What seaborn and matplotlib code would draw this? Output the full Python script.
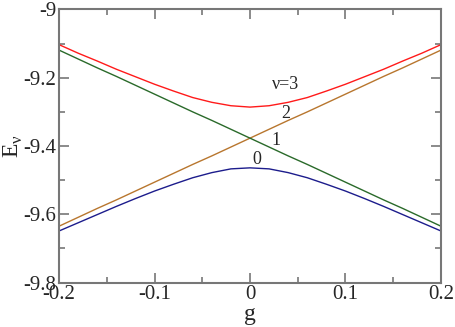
import seaborn as sns
import matplotlib.pyplot as plt
import pandas as pd
from matplotlib.ticker import MultipleLocator

# Valori (g, energie dei livelli)
g = [-0.20, -0.18, -0.16, -0.14, -0.12, -0.10, -0.08, -0.06, -0.04, -0.02, 0.00,
     0.02, 0.04, 0.06, 0.08, 0.10, 0.12, 0.14, 0.16, 0.18, 0.20]
e3 = [-9.103, -9.128, -9.151, -9.175, -9.197, -9.219, -9.239, -9.258, -9.272, -9.282, -9.286,
      -9.282, -9.272, -9.258, -9.239, -9.219, -9.197, -9.175, -9.151, -9.128, -9.103]
e0 = [-9.649, -9.625, -9.601, -9.577, -9.554, -9.532, -9.512, -9.493, -9.478, -9.467, -9.464,
      -9.467, -9.478, -9.493, -9.512, -9.532, -9.554, -9.577, -9.601, -9.625, -9.649]
e1 = [-9.119, -9.145, -9.171, -9.196, -9.222, -9.248, -9.274, -9.300, -9.325, -9.351, -9.377,
      -9.403, -9.429, -9.454, -9.480, -9.506, -9.532, -9.558, -9.583, -9.609, -9.635]
e2 = e1[::-1]

livelli = ['3', '2', '1', '0']
colori = {'3': '#ff1a1a', '2': '#b8762e', '1': '#2a6a2a', '0': '#1c1c8c'}

df = pd.concat([
    pd.DataFrame({'g': g, 'E': e3, 'v': '3'}),
    pd.DataFrame({'g': g, 'E': e2, 'v': '2'}),
    pd.DataFrame({'g': g, 'E': e1, 'v': '1'}),
    pd.DataFrame({'g': g, 'E': e0, 'v': '0'}),
])

sns.set_style('ticks')
plt.rcParams['font.family'] = 'serif'
plt.rcParams['font.serif'] = ['Liberation Serif', 'DejaVu Serif']
plt.rcParams['mathtext.fontset'] = 'custom'
plt.rcParams['mathtext.rm'] = 'Liberation Serif'

fig = plt.figure(figsize=(4.55, 3.27), dpi=100)
ax = fig.add_axes([0.1297, 0.136, 0.8395, 0.835])
sns.lineplot(data=df, x='g', y='E', hue='v', palette=colori, hue_order=livelli,
             linewidth=1.0, legend=False, ax=ax, sort=False)

ax.set_xlim(-0.2, 0.2)
ax.set_ylim(-9.8, -9.0)
ax.xaxis.set_major_locator(MultipleLocator(0.1))
ax.xaxis.set_minor_locator(MultipleLocator(0.05))
ax.yaxis.set_major_locator(MultipleLocator(0.2))
ax.yaxis.set_minor_locator(MultipleLocator(0.1))
ax.xaxis.set_major_formatter(plt.FuncFormatter(lambda v, p: '0' if abs(v) < 1e-9 else f'{v:g}'))
ax.yaxis.set_major_formatter(plt.FuncFormatter(lambda v, p: f'{v:g}'))
ax.tick_params(which='both', direction='in', top=True, right=True, labelsize=15,
               color='#777777', width=1.2, pad=2)
ax.tick_params(which='major', length=7)
ax.tick_params(which='minor', length=4)
for s in ax.spines.values():
    s.set_color('#777777')
    s.set_linewidth(1.5)

ax.set_xlabel('g', fontsize=17, labelpad=0)
ax.set_ylabel(r'E$_{\mathregular{ν}}$', fontsize=17, labelpad=-1)

ax.text(0.037, -9.221, 'ν=3', fontsize=13, ha='center', va='center')
ax.text(0.037, -9.306, '2', fontsize=13, ha='center', va='center')
ax.text(0.027, -9.385, '1', fontsize=13, ha='center', va='center')
ax.text(0.007, -9.441, '0', fontsize=13, ha='center', va='center')

fig.savefig('out.png', dpi=100)
